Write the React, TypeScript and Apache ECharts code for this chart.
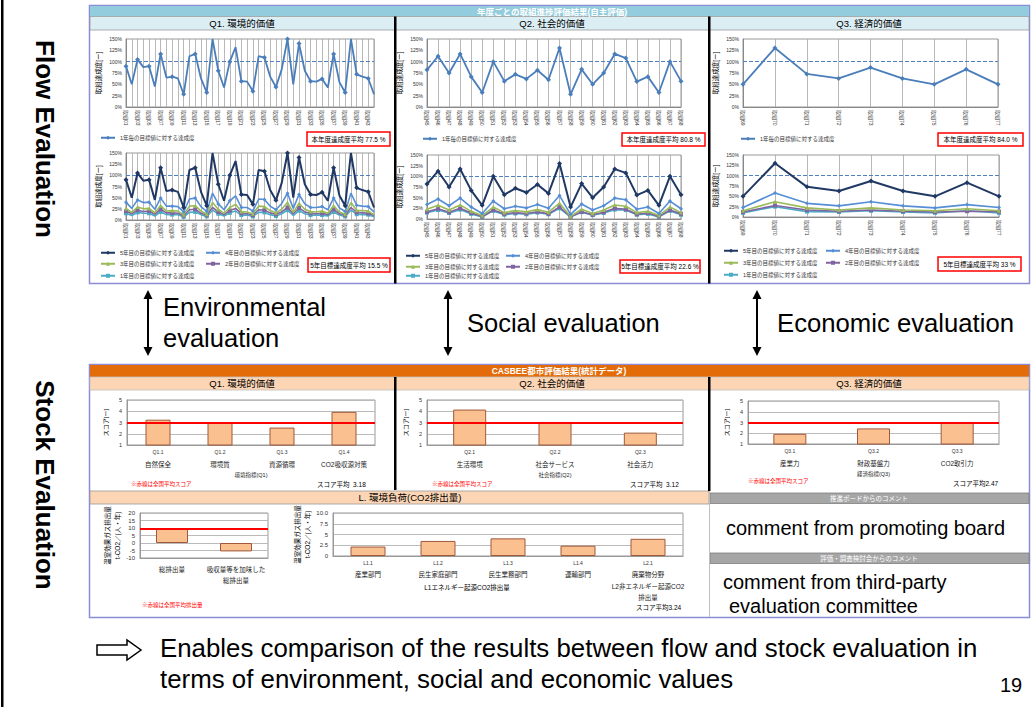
import React, { useEffect, useRef } from 'react';
import * as echarts from 'echarts';

const FONT = "'Liberation Sans', 'Noto Sans CJK JP', sans-serif";

// ---- Flow evaluation data ----
const q1Labels = ['取組01','取組02','取組03','取組04','取組05','取組06','取組07','取組08','取組09','取組10','取組11','取組12','取組13','取組14','取組15','取組16','取組17','取組18','取組19','取組20','取組21','取組22','取組23','取組24','取組25','取組26','取組27','取組28','取組29','取組30','取組31','取組32','取組33','取組34','取組35','取組36','取組37','取組38','取組39','取組40','取組41','取組42','取組43','取組44'];
const q1Annual = [90,50,105,88,90,45,117,65,67,63,28,112,117,63,32,150,80,43,100,132,57,56,35,112,109,67,44,83,150,50,140,80,57,56,62,43,117,55,32,150,72,67,63,28];
const q1Year4 = [40,26,45,39,40,24,49,31,31,30,18,47,49,30,19,60,36,23,43,54,28,28,20,47,46,31,23,37,60,26,57,36,28,28,30,23,49,27,19,60,33,31,30,18];
const q1Year3 = [26,17,29,25,26,16,32,20,21,20,12,31,32,20,13,39,24,15,28,35,19,18,14,31,30,21,16,24,39,17,37,24,19,18,20,15,32,18,13,39,22,21,20,12];
const q1Year2 = [20,14,22,19,20,13,24,16,16,15,10,23,24,15,11,28,18,12,21,26,15,14,11,23,22,16,13,18,28,14,27,18,15,14,15,12,24,14,11,28,17,16,15,10];
const q1Year1 = [15,10,17,15,15,9,18,12,12,12,7,17,18,12,8,22,14,9,16,20,11,11,8,17,17,12,9,14,22,10,21,14,11,11,11,9,18,11,8,22,13,12,12,7];

const q2Labels = ['取組45','取組46','取組47','取組48','取組49','取組50','取組51','取組52','取組53','取組54','取組55','取組56','取組57','取組58','取組59','取組60','取組61','取組62','取組63','取組64','取組65','取組66','取組67','取組68'];
const q2Annual = [82,112,75,117,67,32,100,57,72,62,81,60,130,28,83,50,75,117,108,56,67,32,100,57];
const q2Year4 = [34,47,31,49,28,13,42,24,30,26,34,25,55,11,35,21,31,49,45,23,28,13,42,24];
const q2Year3 = [23,32,21,33,18,8,28,15,20,17,22,16,37,6,23,13,21,33,30,15,18,8,28,15];
const q2Year2 = [17,24,16,25,14,6,21,12,15,13,17,12,28,5,17,10,16,25,23,11,14,6,21,12];
const q2Year1 = [15,21,14,22,12,5,19,10,13,11,15,11,25,5,16,9,14,22,21,10,12,5,19,10];

const q3Labels = ['取組69','取組70','取組71','取組72','取組73','取組74','取組75','取組76','取組77'];
const q3Annual = [50,130,73,63,87,63,50,83,50];
const q3Year4 = [23,58,33,27,37,27,22,30,23];
const q3Year3 = [15,37,22,17,22,17,15,20,15];
const q3Year2 = [12,28,17,14,17,14,12,14,13];
const q3Year1 = [10,25,13,12,15,12,10,15,10];

const flowTicks = [0, 150, 25];

// ---- Stock evaluation data ----
const sQ1Codes = ['Q1.1','Q1.2','Q1.3','Q1.4'];
const sQ1Names = ['自然保全','環境質','資源循環','CO2吸収源対策'];
const sQ1Scores = [3.25, 3.0, 2.55, 3.95];
const sQ2Codes = ['Q2.1','Q2.2','Q2.3'];
const sQ2Names = ['生活環境','社会サービス','社会活力'];
const sQ2Scores = [4.15, 3.05, 2.1];
const sQ3Codes = ['Q3.1','Q3.2','Q3.3'];
const sQ3Names = ['産業力','財政基盤力','CO2取引力'];
const sQ3Scores = [1.95, 2.45, 3.05];
const nationalScore = 3;

const lTotalCats = ['総排出量','吸収量等を加味した\n総排出量'];
const lTotalValues = [9.4, -5.6];
const nationalEmission = 9.8;
const lSectorCodes = ['L1.1','L1.2','L1.3','L1.4','L2.1'];
const lSectorNames = ['産業部門','民生家庭部門','民生業務部門','運輸部門','廃棄物分野\nL2非エネルギー起源CO2\n排出量'];
const lSectorValues = [2.2, 3.5, 4.1, 2.4, 4.0];

const ANNUAL = '1年毎の目標値に対する達成度';
const YEAR_NAMES = ['5年目の目標値に対する達成度','4年目の目標値に対する達成度','3年目の目標値に対する達成度','2年目の目標値に対する達成度','1年目の目標値に対する達成度'];
const YEAR_COLORS = ['#1f3864','#558ed5','#9bbb59','#8064a2','#4bacc6'];
const YEAR_SYMBOLS = ['diamond','diamond','triangle','rect','rect'];

function T(text: string, x: number, y: number, size: number, o: any = {}) {
  return {
    type: 'text', x, y, z: 60, rotation: o.rotation || 0,
    style: {
      text, fontSize: size, fontFamily: FONT, fill: o.fill || '#000',
      fontWeight: o.weight || 'normal', align: o.align || 'left', verticalAlign: 'middle',
      lineHeight: o.lineHeight,
    },
  };
}
function R(x: number, y: number, w: number, h: number, fill: string, stroke?: string, lw = 1, z = -5) {
  return { type: 'rect', z, shape: { x, y, width: w, height: h }, style: { fill, stroke: stroke || null, lineWidth: lw } };
}
function L(x1: number, y1: number, x2: number, y2: number, stroke: string, lw = 1, z = 5) {
  return { type: 'line', z, shape: { x1, y1, x2, y2 }, style: { stroke, lineWidth: lw } };
}
function dblArrow(x: number, y1: number, y2: number) {
  return [
    L(x, y1 + 6, x, y2 - 6, '#000', 2),
    { type: 'polygon', z: 5, shape: { points: [[x - 4.5, y1 + 9], [x, y1], [x + 4.5, y1 + 9]] }, style: { fill: '#000' } },
    { type: 'polygon', z: 5, shape: { points: [[x - 4.5, y2 - 9], [x, y2], [x + 4.5, y2 - 9]] }, style: { fill: '#000' } },
  ];
}
function redBox(x: number, y: number, w: number, h: number, text: string) {
  return [
    { type: 'rect', z: 40, shape: { x, y, width: w, height: h }, style: { fill: '#fff', stroke: '#ff0000', lineWidth: 1.5 } },
    T(text, x + w / 2, y + h / 2, 6.5, { align: 'center' }),
  ];
}

function flowX(gridIndex: number, labels: string[], interval: number) {
  return {
    type: 'category', gridIndex, data: labels, boundaryGap: false,
    axisLine: { lineStyle: { color: '#888' } }, axisTick: { show: false },
    axisLabel: { rotate: -90, fontSize: 5, color: '#333', interval, margin: 3, fontFamily: FONT },
    splitLine: { show: true, interval: 0, lineStyle: { color: '#a6a6a6', width: 0.8 } },
  };
}
function flowY(gridIndex: number) {
  return {
    type: 'value', gridIndex, min: flowTicks[0], max: flowTicks[1], interval: flowTicks[2],
    name: '取組達成度[ー]', nameLocation: 'middle', nameGap: 24,
    nameTextStyle: { fontSize: 6.5, color: '#000', fontFamily: FONT },
    axisLabel: { fontSize: 5, color: '#333', formatter: '{value}%', margin: 4 },
    splitLine: { show: false }, axisLine: { show: true, lineStyle: { color: '#888' } }, axisTick: { show: false },
  };
}
function stockX(gridIndex: number, codes: string[], names: string[], axisName: string) {
  return {
    type: 'category', gridIndex, data: codes, axisTick: { show: false },
    axisLine: { lineStyle: { color: '#999' } },
    axisLabel: {
      interval: 0, margin: 1,
      formatter: (v: string, i: number) => `{c|${v}}\n{n|${names[i]}}`,
      rich: { c: { fontSize: 5, lineHeight: 12, color: '#333', fontFamily: FONT }, n: { fontSize: 6.5, lineHeight: 12, color: '#222', fontFamily: FONT } },
    },
    name: axisName, nameLocation: 'middle', nameGap: 27,
    nameTextStyle: { fontSize: 5.5, color: '#222', fontFamily: FONT },
  };
}
function stockY(gridIndex: number) {
  return {
    type: 'value', gridIndex, min: 1, max: 5, interval: 1,
    name: 'スコア[ー]', nameLocation: 'middle', nameGap: 18,
    nameTextStyle: { fontSize: 6, color: '#000', fontFamily: FONT },
    axisLabel: { fontSize: 5.5, color: '#333', margin: 5 },
    splitLine: { lineStyle: { color: '#bbb' } }, axisLine: { show: true, lineStyle: { color: '#999' } }, axisTick: { show: false },
  };
}
function barSeries(idx: number, data: number[], width: number, line: number) {
  return {
    type: 'bar', xAxisIndex: idx, yAxisIndex: idx, data, barWidth: width,
    itemStyle: { color: '#fac090', borderColor: '#a0583a', borderWidth: 1 },
    markLine: {
      silent: true, symbol: 'none', label: { show: false },
      lineStyle: { color: '#ff0000', width: 2, type: 'solid' }, data: [{ yAxis: line }],
    },
  };
}
function lgd(name: string, left: number, top: number) {
  return {
    data: [name], left, top, padding: 0, itemWidth: 14, itemHeight: 5, itemGap: 0, selectedMode: false,
    textStyle: { fontSize: 5.5, color: '#333', fontFamily: FONT },
  };
}

export default function App() {
  const ref = useRef<HTMLDivElement>(null);
  useEffect(() => {
    if (!ref.current) return;
    const chart = echarts.init(ref.current, null, { renderer: 'svg' });

    const grids = [
      { left: 126, top: 39, width: 248, height: 68 },
      { left: 427, top: 39, width: 254, height: 68 },
      { left: 743, top: 39, width: 255, height: 68 },
      { left: 126, top: 153, width: 248, height: 67 },
      { left: 427, top: 155, width: 254, height: 64 },
      { left: 743, top: 155, width: 256, height: 62 },
      { left: 127, top: 400, width: 248, height: 45 },
      { left: 427, top: 400, width: 256, height: 45 },
      { left: 748, top: 401, width: 251, height: 43 },
      { left: 140, top: 513, width: 128, height: 45 },
      { left: 333, top: 513, width: 350, height: 43 },
    ].map((g) => ({ ...g, show: true, borderColor: '#999', borderWidth: 1, backgroundColor: 'transparent' }));

    const xAxis: any[] = [
      flowX(0, q1Labels, 1), flowX(1, q2Labels, 0), flowX(2, q3Labels, 0),
      flowX(3, q1Labels, 1), flowX(4, q2Labels, 0), flowX(5, q3Labels, 0),
      stockX(6, sQ1Codes, sQ1Names, '環境指標(Q1)'),
      stockX(7, sQ2Codes, sQ2Names, '社会指標(Q2)'),
      stockX(8, sQ3Codes, sQ3Names, '経済指標(Q3)'),
      {
        type: 'category', gridIndex: 9, data: lTotalCats, axisTick: { show: false },
        axisLine: { onZero: false, lineStyle: { color: '#999' } },
        axisLabel: { interval: 0, margin: 6, fontSize: 6.5, lineHeight: 11, color: '#222', fontFamily: FONT },
      },
      {
        type: 'category', gridIndex: 10, data: lSectorCodes, axisTick: { show: false },
        axisLine: { lineStyle: { color: '#999' } },
        axisLabel: {
          interval: 0, margin: 1,
          formatter: (v: string, i: number) => `{c|${v}}\n{n|${lSectorNames[i]}}`,
          rich: { c: { fontSize: 5, lineHeight: 12, color: '#333', fontFamily: FONT }, n: { fontSize: 6.5, lineHeight: 11.5, color: '#222', fontFamily: FONT } },
        },
      },
    ];
    const emName = '温室効果ガス排出量\nt-CO2／(人・年)';
    const yAxis: any[] = [
      flowY(0), flowY(1), flowY(2), flowY(3), flowY(4), flowY(5),
      stockY(6), stockY(7), stockY(8),
      {
        type: 'value', gridIndex: 9, min: -10, max: 20, interval: 5,
        name: emName, nameLocation: 'middle', nameGap: 18,
        nameTextStyle: { fontSize: 6.5, color: '#000', lineHeight: 10, fontFamily: FONT },
        axisLabel: { fontSize: 6, color: '#333', margin: 5 },
        splitLine: { lineStyle: { color: '#bbb' } }, axisLine: { show: true, lineStyle: { color: '#999' } }, axisTick: { show: false },
      },
      {
        type: 'value', gridIndex: 10, min: 0, max: 10, interval: 2.5,
        name: emName, nameLocation: 'middle', nameGap: 19,
        nameTextStyle: { fontSize: 6.5, color: '#000', lineHeight: 10, fontFamily: FONT },
        axisLabel: { fontSize: 6, color: '#333', margin: 5, formatter: (v: number) => (v === 10 ? '10.0' : String(v)) },
        splitLine: { lineStyle: { color: '#bbb' } }, axisLine: { show: true, lineStyle: { color: '#999' } }, axisTick: { show: false },
      },
    ];

    const dashed100 = {
      silent: true, symbol: 'none', label: { show: false },
      lineStyle: { color: '#4f81bd', width: 1, type: 'dashed' }, data: [{ yAxis: 100 }],
    };
    const series: any[] = [];
    [q1Annual, q2Annual, q3Annual].forEach((d, i) => {
      series.push({
        type: 'line', name: ANNUAL, xAxisIndex: i, yAxisIndex: i, data: d,
        color: '#4a7ebb', symbol: 'diamond', symbolSize: 5, lineStyle: { width: 1.8 }, markLine: dashed100,
      });
    });
    const years = [
      [q1Annual, q1Year4, q1Year3, q1Year2, q1Year1],
      [q2Annual, q2Year4, q2Year3, q2Year2, q2Year1],
      [q3Annual, q3Year4, q3Year3, q3Year2, q3Year1],
    ];
    years.forEach((set, gi) => {
      for (let k = 4; k >= 0; k--) {
        series.push({
          type: 'line', name: YEAR_NAMES[k], xAxisIndex: 3 + gi, yAxisIndex: 3 + gi, data: set[k],
          color: YEAR_COLORS[k], symbol: YEAR_SYMBOLS[k], symbolSize: k === 0 ? 5 : 4,
          lineStyle: { width: k === 0 ? 2 : 1.6 }, z: 10 - k,
          markLine: k === 0 ? dashed100 : undefined,
        });
      }
    });
    series.push(barSeries(6, sQ1Scores, 25, nationalScore));
    series.push(barSeries(7, sQ2Scores, 33, nationalScore));
    series.push(barSeries(8, sQ3Scores, 33, nationalScore));
    series.push(barSeries(9, lTotalValues, 32, nationalEmission));
    series.push({ ...barSeries(10, lSectorValues, 35, 0), markLine: undefined });

    const legend: any[] = [
      lgd(ANNUAL, 100, 135), lgd(ANNUAL, 422, 136), lgd(ANNUAL, 740, 136),
    ];
    const legPos = [
      { c1: 100, c2: 205, rows: [250, 261, 273] },
      { c1: 405, c2: 505, rows: [253, 264, 273] },
      { c1: 723, c2: 825, rows: [248, 260, 272] },
    ];
    legPos.forEach((p) => {
      legend.push(lgd(YEAR_NAMES[0], p.c1, p.rows[0]));
      legend.push(lgd(YEAR_NAMES[1], p.c2, p.rows[0]));
      legend.push(lgd(YEAR_NAMES[2], p.c1, p.rows[1]));
      legend.push(lgd(YEAR_NAMES[3], p.c2, p.rows[1]));
      legend.push(lgd(YEAR_NAMES[4], p.c1, p.rows[2]));
    });

    const graphic: any[] = [
      R(1, 0, 2.5, 707, '#000', undefined, 1, 0),
      T('Flow Evaluation', 45, 139, 26, { weight: 'bold', align: 'center', rotation: -Math.PI / 2 }),
      T('Stock Evaluation', 45, 485, 26, { weight: 'bold', align: 'center', rotation: -Math.PI / 2 }),
      // flow panel
      R(89.5, 5.5, 940, 278, '#fff', '#8c8cd8', 1.5, -10),
      R(90, 6, 939, 10.5, '#93cddd', undefined, 1, -6),
      T('年度ごとの取組進捗評価結果(自主評価)', 552, 11.5, 8.5, { fill: '#fff', align: 'center', weight: 'bold' }),
      R(90, 16.5, 305, 13.5, '#dbeef4', '#9a9a9a', 0.8, -6),
      R(395, 16.5, 314, 13.5, '#dbeef4', '#9a9a9a', 0.8, -6),
      R(709, 16.5, 320, 13.5, '#dbeef4', '#9a9a9a', 0.8, -6),
      T('Q1. 環境的価値', 242, 23.5, 9.5, { align: 'center' }),
      T('Q2. 社会的価値', 552, 23.5, 9.5, { align: 'center' }),
      T('Q3. 経済的価値', 869, 23.5, 9.5, { align: 'center' }),
      R(394, 16.5, 2.5, 267, '#000', undefined, 1, 5),
      R(708, 16.5, 2.5, 267, '#000', undefined, 1, 5),
      ...redBox(307, 132, 83, 14, '本年度達成度平均 77.5 %'),
      ...redBox(622, 133, 83, 13, '本年度達成度平均 80.8 %'),
      ...redBox(938, 133, 85, 13, '本年度達成度平均 84.0 %'),
      ...redBox(308, 258, 82, 14, '5年目標達成度平均 15.5 %'),
      ...redBox(620, 260, 80, 13, '5年目標達成度平均 22.6 %'),
      ...redBox(938, 257, 83, 14, '5年目標達成度平均 33 %'),
      // middle arrows and labels
      ...dblArrow(148, 290, 356),
      ...dblArrow(448, 290, 356),
      ...dblArrow(757, 290, 356),
      T('Environmental', 163, 307, 25.5),
      T('evaluation', 163, 338, 25.5),
      T('Social evaluation', 467, 323, 25.5),
      T('Economic evaluation', 777, 323, 25.7),
      // stock panel
      R(89.5, 364.5, 940, 253, '#fff', '#8c8cd8', 1.5, -10),
      R(90, 365, 939, 12, '#e36c09', undefined, 1, -6),
      T('CASBEE都市評価結果(統計データ)', 559, 371, 8.5, { fill: '#fff', align: 'center', weight: 'bold' }),
      R(90, 377, 305, 13, '#fcd5b4', '#bfbfbf', 0.8, -6),
      R(395, 377, 314, 13, '#fcd5b4', '#bfbfbf', 0.8, -6),
      R(709, 377, 320, 13, '#fcd5b4', '#bfbfbf', 0.8, -6),
      T('Q1. 環境的価値', 242, 383.5, 9.5, { align: 'center' }),
      T('Q2. 社会的価値', 552, 383.5, 9.5, { align: 'center' }),
      T('Q3. 経済的価値', 869, 383.5, 9.5, { align: 'center' }),
      R(394, 377, 2.5, 113, '#000', undefined, 1, 5),
      R(708, 377, 2.5, 114, '#000', undefined, 1, 5),
      R(90, 491, 619, 13, '#fcd5b4', '#999', 0.8, -6),
      T('L. 環境負荷(CO2排出量)', 410, 497.5, 9.5, { align: 'center' }),
      L(709.5, 491, 709.5, 617, '#bfbfbf', 1, -4),
      R(710, 493, 319, 10.5, '#a6a6a6', '#7f7f7f', 0.8, -6),
      T('推進ボードからのコメント', 869, 498.5, 6.5, { fill: '#fff', align: 'center' }),
      R(710, 553, 319, 10.5, '#a6a6a6', '#7f7f7f', 0.8, -6),
      T('評価・調査検討会からのコメント', 869, 558.5, 6.5, { fill: '#fff', align: 'center' }),
      T('comment from promoting board', 726, 528, 20),
      T('comment from third-party', 723, 582, 20),
      T('evaluation committee', 729, 606, 20),
      T('※赤線は全国平均スコア', 131, 484, 5.5, { fill: '#ff0000' }),
      T('※赤線は全国平均スコア', 432, 484, 5.5, { fill: '#ff0000' }),
      T('※赤線は全国平均スコア', 748, 481, 5.5, { fill: '#ff0000' }),
      T('スコア平均  3.18', 317, 484, 6.5),
      T('スコア平均  3.12', 630, 484, 6.5),
      T('スコア平均2.47', 953, 483, 6.5),
      T('※赤線は全国平均排出量', 142, 605, 5.5, { fill: '#ff0000' }),
      T('L1エネルギー起源CO2排出量', 467, 587, 6.5, { align: 'center' }),
      T('スコア平均3.24', 636, 607, 6.5),
      // bottom
      { type: 'polygon', z: 5, shape: { points: [[97, 645], [127, 645], [127, 640], [141, 650], [127, 660], [127, 655], [97, 655]] }, style: { fill: 'none', stroke: '#000', lineWidth: 1.5 } },
      T('Enables comparison of the results between flow and stock evaluation in', 160, 648, 25.85),
      T('terms of environment, social and economic values', 160, 679, 25.85),
      T('19', 1000, 685, 20),
    ];

    chart.setOption({
      animation: false,
      backgroundColor: '#fff',
      textStyle: { fontFamily: FONT },
      grid: grids,
      xAxis,
      yAxis,
      series,
      legend,
      graphic,
    });
    return () => chart.dispose();
  }, []);
  return <div ref={ref} style={{ position: 'fixed', left: 0, top: 0, width: 1036, height: 707, background: '#fff' }} />;
}
